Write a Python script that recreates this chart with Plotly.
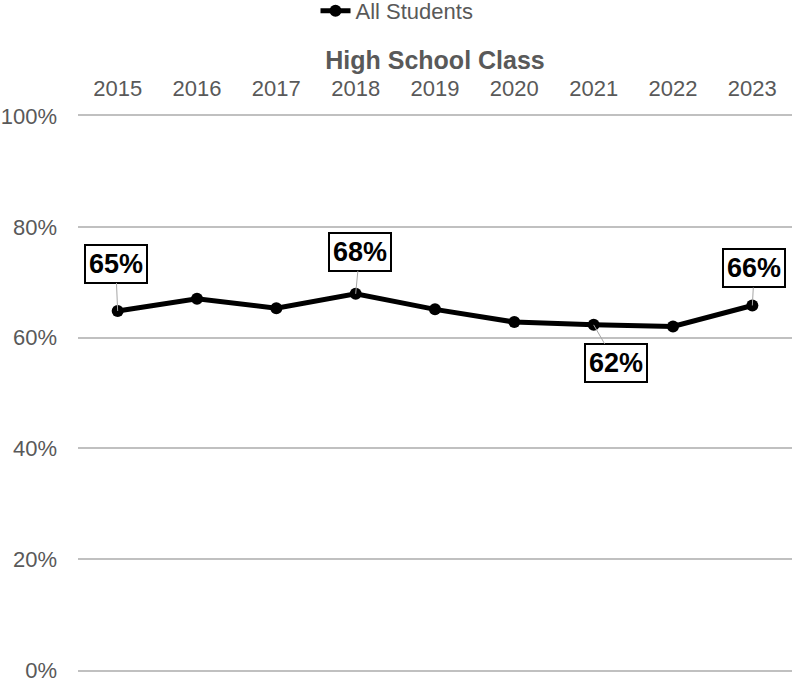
import plotly.graph_objects as go

# High school class years and share of all students
years = ["2015", "2016", "2017", "2018", "2019", "2020", "2021", "2022", "2023"]
all_students = [64.8, 67.0, 65.3, 67.9, 65.1, 62.8, 62.3, 62.0, 65.8]

# Years that get a boxed value label, with the label's pixel offset from the point
labelled_years = ["2015", "2018", "2021", "2023"]
label_offsets = [(-2, -47), (4, -42), (22, 38), (2, -37)]

y_ticks = [0, 20, 40, 60, 80, 100]

FONT = "Liberation Sans, Arial, sans-serif"
GREY = "#595959"
GRID = "#c0c0c0"

fig = go.Figure()
fig.add_trace(
    go.Scatter(
        x=years,
        y=all_students,
        mode="lines+markers",
        name="All Students",
        line=dict(color="black", width=5),
        marker=dict(color="black", size=12),
    )
)

for yr, (ax, ay) in zip(labelled_years, label_offsets):
    val = all_students[years.index(yr)]
    fig.add_annotation(
        x=years.index(yr),
        y=val,
        xref="x",
        yref="y",
        text=f"<b>{round(val)}%</b>",
        showarrow=True,
        arrowhead=0,
        arrowwidth=1,
        arrowcolor="#a6a6a6",
        ax=ax,
        ay=ay,
        font=dict(family=FONT, size=27, color="black"),
        bgcolor="white",
        bordercolor="black",
        borderwidth=2,
        borderpad=3,
    )

fig.update_layout(
    width=794,
    height=682,
    margin=dict(l=78, r=2, t=116, b=12),
    paper_bgcolor="white",
    plot_bgcolor="white",
    font=dict(family=FONT, color=GREY, size=21),
    showlegend=True,
    legend=dict(
        orientation="h",
        xref="container",
        x=0.5,
        xanchor="center",
        yref="container",
        y=0.9839,
        yanchor="middle",
        font=dict(family=FONT, size=22, color=GREY),
        bgcolor="rgba(0,0,0,0)",
    ),
    xaxis=dict(
        type="category",
        categoryorder="array",
        categoryarray=years,
        range=[-0.5, len(years) - 0.5],
        side="top",
        automargin=False,
        showgrid=False,
        zeroline=False,
        showline=True,
        mirror=True,
        linecolor=GRID,
        linewidth=1.5,
        ticks="",
        ticklabelstandoff=9,
        tickfont=dict(family=FONT, size=22, color=GREY),
        title=dict(
            text="<b>High School Class</b>",
            font=dict(family=FONT, size=25, color=GREY),
            standoff=0,
        ),
    ),
    yaxis=dict(
        range=[0, 100],
        tickvals=y_ticks,
        ticktext=[f"{v}%" for v in y_ticks],
        automargin=False,
        showgrid=True,
        gridcolor=GRID,
        gridwidth=1.5,
        zeroline=False,
        showline=False,
        ticks="",
        ticklabelstandoff=20,
        ticklabeloverflow="allow",
        tickfont=dict(family=FONT, size=22, color=GREY),
    ),
)

fig.write_html("out.html")
